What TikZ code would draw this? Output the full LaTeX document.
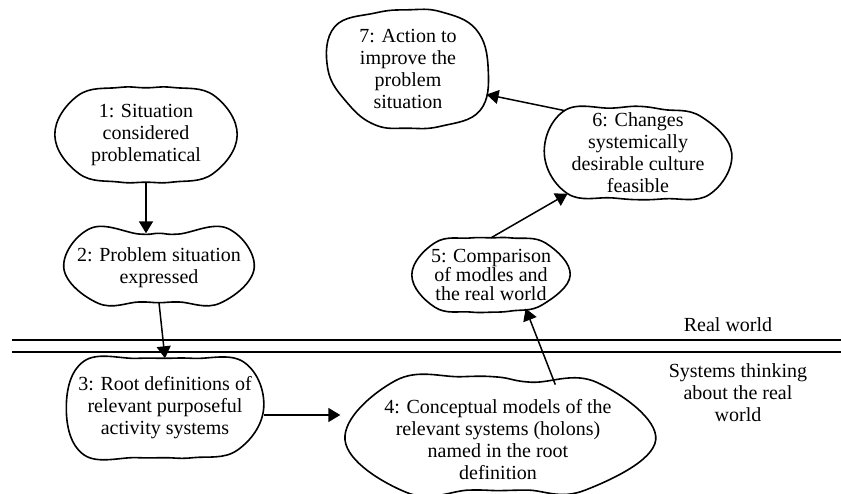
\documentclass[tikz,border=0pt]{standalone}
\usepackage{fontspec}
\setmainfont{Liberation Serif}
\usetikzlibrary{arrows.meta}
\usetikzlibrary{calc}
\usetikzlibrary{shapes.geometric}

% wobbly outline round an ellipse node, one factor every 30 degrees
\newcommand\blobline[2]{%
  \foreach \fac [count=\i] in {#2} {
    \pgfmathtruncatemacro\blobang{30*\i}
    \coordinate (#1-\i) at ($(#1.center)!\fac!(#1.\blobang)$);
  }
  \draw[outline] plot[smooth cycle, tension=.7] coordinates
    {(#1-1) (#1-2) (#1-3) (#1-4) (#1-5) (#1-6) (#1-7) (#1-8) (#1-9) (#1-10) (#1-11) (#1-12)};
}

\begin{document}
\begin{tikzpicture}[x=1pt,y=-1pt,font=\fontsize{20}{22}\selectfont,
  blob/.style 2 args={ellipse,inner sep=-90pt,minimum width=#1,minimum height=#2,align=center},
  outline/.style={line width=1.6pt,line join=round},
  arr/.style={line width=1.5pt,-{Triangle[length=12pt,width=14pt]}},
  divider/.style={line width=2pt}]
  \useasboundingbox (0,0) rectangle (841,493);

  \node[blob={182pt}{94pt}] (n1) at (146,135) {1: Situation\\considered\\problematical};
  \node[blob={190pt}{69pt}] (n2) at (159,268) {2: Problem situation\\expressed};
  \node[blob={197pt}{99pt}] (n3) at (165,408) {3: Root definitions of\\relevant purposeful\\activity systems};
  \node[blob={315pt}{112pt}] (n4) at (498,440) {4: Conceptual models of the\\relevant systems (holons)\\named in the root\\definition};
  \node[blob={158pt}{74pt},font=\fontsize{20}{19}\selectfont] (n5) at (491,275) {5: Comparison\\of modles and\\the real world};
  \node[blob={187pt}{93pt}] (n6) at (638,153) {6: Changes\\systemically\\desirable culture\\feasible};
  \node[blob={160pt}{118pt}] (n7) at (408,69) {7: Action to\\improve the\\problem\\situation};

  \blobline{n1}{1.12,1.05,1,1.05,1.12,1,1.1,1.04,1,1.04,1.1,1}
  \blobline{n2}{1.35,1,1,1,1.35,1,1.2,1,1,1,1.2,1}
  \blobline{n3}{1.22,1.04,1,1.04,1.25,1,1.25,1.04,1,1.04,1.12,1}
  \blobline{n4}{1.2,1.05,1.12,1.15,1.24,.97,1.1,.91,.9,.91,1.05,1}
  \blobline{n5}{1.1,1.03,1,1.03,1.12,1,1.12,1.03,1,1,1.03,1}
  \blobline{n6}{1.03,.97,1,1,1.2,1,1.15,1,1,1.02,1.17,1}
  \blobline{n7}{1.08,1.05,1,1.03,1.16,1,.95,1.03,1,1.05,1.14,1}

  \path[arr]
    (n1.south) edge[line width=2pt] (n1.south |- n2.north)
    (n2.south) edge (n3.north)
    ([yshift=-7pt]n3.east) edge ([yshift=25pt]n4.west)
    ($(n4.center)!1.05!(n4.44)$) edge (n5.316)
    (n5.north) edge (n6-7)
    (n6-5) edge ($(n7.center)!1.07!(n7.342)$);

  \draw[divider] (12,340) -- (841,340);
  \draw[divider] (12,352) -- (841,352);
  \node (real) at (728,325) {Real world};
  \node[align=center] (systems) at (738,393) {Systems thinking\\about the real\\world};
\end{tikzpicture}
\end{document}
